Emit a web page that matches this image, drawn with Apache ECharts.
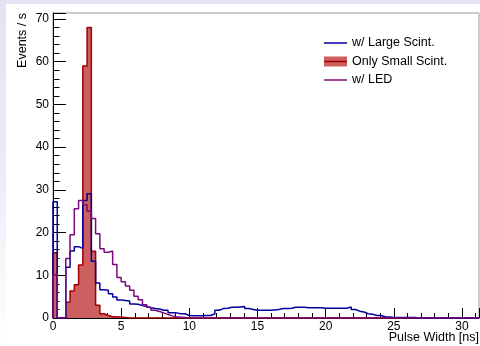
<!DOCTYPE html>
<html>
<head>
<meta charset="utf-8">
<script src="https://cdn.jsdelivr.net/npm/echarts@6/dist/echarts.min.js"></script>
<style>
html,body{margin:0;padding:0;background:#fff;}
#c{width:480px;height:346px;}
</style>
</head>
<body>
<div id="c"></div>
<script>
// Histogram: 100 bins of 0.3125 ns from 0 to 31.25 ns
var binWidth = 0.3125;
var nBins = 100;
var xTicks = [0, 5, 10, 15, 20, 25, 30];
var yTicks = [0, 10, 20, 30, 40, 50, 60, 70];
var seriesNames = ['w/ Large Scint.', 'Only Small Scint.', 'w/ LED'];
var xTitle = 'Pulse Width [ns]';
var yTitle = 'Events / s';

// w/ Large Scint. (events / s per bin)
var largeScint = [
  27.2, 0, 0, 11.9, 15.7, 16.7, 16.3, 27.5, 29.1, 13.3,
  8.2, 6.6, 6.5, 5.7, 4.9, 4.2, 4.1, 4.0, 3.3, 3.2,
  2.9, 2.7, 2.4, 2.2, 2.1, 1.8, 1.8, 1.25, 1.2, 1.0,
  1.0, 0.6, 0.5, 0.5, 0.5, 0.6, 0.6, 1.0, 1.8, 2.2,
  2.3, 2.5, 2.5, 2.6, 2.7, 2.2, 2.0, 1.8, 1.8, 1.8,
  1.8, 1.9, 2.0, 2.2, 2.2, 2.3, 2.5, 2.5, 2.5, 2.4,
  2.4, 2.4, 2.4, 2.3, 2.3, 2.3, 2.3, 2.3, 2.3, 2.6,
  2.0, 1.6, 1.4, 1.0, 0.9, 0.6, 0.6, 0.3, 0.25, 0.1,
  0.1, 0.1, 0.1, 0.1, 0.1, 0, 0, 0, 0, 0,
  0, 0, 0, 0, 0, 0, 0, 0, 0, 0
];

// Only Small Scint.
var smallScint = [
  15.3, 0, 0, 3.7, 6.3, 7.8, 12.4, 59.0, 68.0, 15.6,
  3.0, 1.0, 0.6, 0.3, 0.3, 0.2, 0.1, 0, 0, 0,
  0, 0, 0, 0, 0, 0, 0, 0, 0, 0,
  0, 0, 0, 0, 0, 0, 0, 0, 0, 0,
  0, 0, 0, 0, 0, 0, 0, 0, 0, 0,
  0, 0, 0, 0, 0, 0, 0, 0, 0, 0,
  0, 0, 0, 0, 0, 0, 0, 0, 0, 0,
  0, 0, 0, 0, 0, 0, 0, 0, 0, 0,
  0, 0, 0, 0, 0, 0, 0, 0, 0, 0,
  0, 0, 0, 0, 0, 0, 0, 0, 0, 0
];

// w/ LED
var led = [
  10.1, 0, 0, 13.9, 19.5, 25.6, 27.5, 26.5, 25.0, 23.3,
  19.7, 16.2, 15.4, 15.7, 12.5, 9.5, 8.5, 7.5, 6.5, 5.1,
  4.3, 3.1, 2.5, 1.8, 1.5, 1.2, 0.8, 0.5, 0.3, 0.2,
  0.1, 0, 0, 0, 0, 0, 0, 0, 0, 0,
  0, 0, 0, 0, 0, 0, 0, 0, 0, 0,
  0, 0, 0, 0, 0, 0, 0, 0, 0, 0,
  0, 0, 0, 0, 0, 0, 0, 0, 0, 0,
  0, 0, 0, 0, 0, 0, 0, 0, 0, 0,
  0, 0, 0, 0, 0, 0, 0, 0, 0, 0,
  0, 0, 0, 0, 0, 0, 0, 0, 0, 0
];

var yMax = 1.05 * Math.max.apply(null, smallScint);

function stepData(arr) {
  var d = [[0, 0]];
  for (var i = 0; i < arr.length; i++) d.push([i * binWidth, arr[i]]);
  d.push([arr.length * binWidth, arr[arr.length - 1]]);
  return d;
}

var FONT = '"Liberation Sans", Arial, Helvetica, sans-serif';
var chart = echarts.init(document.getElementById('c'), null, {renderer: 'canvas'});

var legendRows = [
  {name: seriesNames[0], color: '#00009a', y: 43},
  {name: seriesNames[1], color: '#a00000', y: 61.5, fill: '#cc6060'},
  {name: seriesNames[2], color: '#7a0a7a', y: 80}
];
var graphics = [
  {type: 'rect', shape: {x: 0, y: 0, width: 480, height: 4}, style: {fill: '#e4e4f4'}, z: -10, silent: true},
  {type: 'rect', shape: {x: 0, y: 0, width: 6, height: 346},
   style: {fill: new echarts.graphic.LinearGradient(0, 0, 0, 1, [{offset: 0, color: '#e2e2f3'}, {offset: 0.5, color: '#ececf8'}, {offset: 1, color: '#ffffff'}])}, z: -10, silent: true},
  {type: 'text', x: 479, y: 338, style: {text: xTitle, fill: '#000', font: '12.5px ' + FONT, textAlign: 'right', verticalAlign: 'middle'}, z: 51},
  {type: 'text', x: 23, y: 13, rotation: Math.PI / 2, style: {text: yTitle, fill: '#000', font: '12.5px ' + FONT, textAlign: 'right', verticalAlign: 'middle'}, z: 51}
];
legendRows.forEach(function (r) {
  if (r.fill) {
    graphics.push({type: 'rect', shape: {x: 324, y: r.y - 5, width: 23, height: 10}, style: {fill: r.fill}, z: 50});
  }
  graphics.push({type: 'line', shape: {x1: 324, y1: r.y, x2: 347, y2: r.y}, style: {stroke: r.color, lineWidth: 1.5}, z: 51});
  graphics.push({type: 'text', x: 352, y: r.y, style: {text: r.name, fill: '#000', font: '12.5px ' + FONT, verticalAlign: 'middle', textAlign: 'left'}, z: 51});
});

var option = {
  animation: false,
  backgroundColor: '#ffffff',
  grid: {left: 53, right: 1, top: 13, bottom: 28, containLabel: false, outerBoundsMode: 'none',
         show: true, borderColor: '#999999', borderWidth: 1, backgroundColor: '#ffffff'},
  xAxis: {
    type: 'value', min: 0, max: nBins * binWidth, interval: 5,
    axisLine: {show: true, onZero: false, lineStyle: {color: '#000', width: 1}},
    axisTick: {show: true, inside: true, length: 10, lineStyle: {color: '#000', width: 1}},
    minorTick: {show: true, splitNumber: 5, length: 5, lineStyle: {color: '#000', width: 1}},
    splitLine: {show: false}, minorSplitLine: {show: false},
    axisLabel: {margin: 3, fontFamily: FONT, fontSize: 12, color: '#000', showMaxLabel: false,
      formatter: function (v) { return xTicks.indexOf(v) >= 0 ? String(v) : ''; }}
  },
  yAxis: {
    type: 'value', min: 0, max: yMax, interval: 10,
    axisLine: {show: true, onZero: false, lineStyle: {color: '#000', width: 1}},
    axisTick: {show: true, inside: true, length: 13, lineStyle: {color: '#000', width: 1}},
    minorTick: {show: true, splitNumber: 5, length: 6.5, lineStyle: {color: '#000', width: 1}},
    splitLine: {show: false}, minorSplitLine: {show: false},
    axisLabel: {margin: 4, fontFamily: FONT, fontSize: 12, color: '#000', showMaxLabel: false,
      formatter: function (v) { return yTicks.indexOf(v) >= 0 ? String(v) : ''; }}
  },
  series: [
    {name: seriesNames[1], type: 'line', step: 'end', symbol: 'none', data: stepData(smallScint),
     lineStyle: {color: '#a00000', width: 1.5}, areaStyle: {color: '#cc6060', opacity: 1}, z: 2},
    {name: seriesNames[0], type: 'line', step: 'end', symbol: 'none', data: stepData(largeScint),
     lineStyle: {color: '#00009a', width: 1.5}, z: 3},
    {name: seriesNames[2], type: 'line', step: 'end', symbol: 'none', data: stepData(led),
     lineStyle: {color: '#7a0a7a', width: 1.5}, z: 4}
  ],
  graphic: graphics
};
chart.setOption(option);
</script>
</body>
</html>
